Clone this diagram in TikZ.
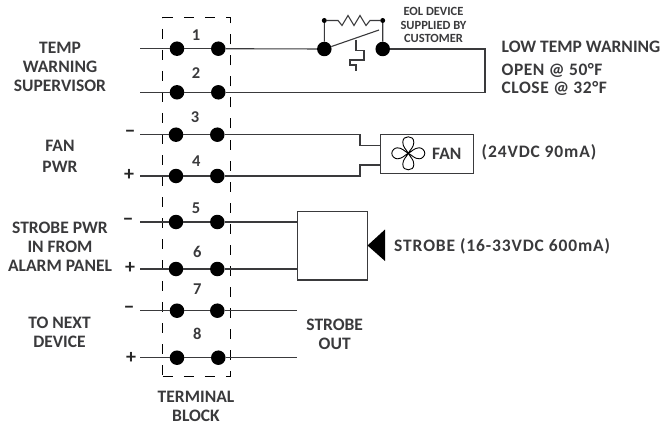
\documentclass[tikz,border=0pt]{standalone}
\usepackage{fontspec}
\setmainfont{Carlito}
\definecolor{ink}{HTML}{3A3A3C}
\tikzset{x=1pt,y=-1pt,
 wire/.style={line width=1.1pt,draw=ink},
 termdot/.style={circle,fill=black,inner sep=0pt,minimum size=14.5pt},
 smalldot/.style={circle,fill=black,inner sep=0pt,minimum size=5pt},
 lab/.style={font=\fontsize{17.5pt}{19pt}\selectfont\bfseries,text=ink,inner sep=0pt,align=center},
 sgn/.style={font=\fontsize{20pt}{20pt}\selectfont\bfseries,text=black!85,inner sep=0pt},
 num/.style={font=\fontsize{16.5pt}{18pt}\selectfont\bfseries,text=ink,inner sep=0pt},
 eol/.style={font=\fontsize{12.5pt}{13.2pt}\selectfont\bfseries,text=ink,inner sep=0pt,align=center},
 boxn/.style={draw=ink,line width=1.1pt,fill=none,inner sep=0pt}}
\newcommand{\lsp}[1]{\addfontfeatures{LetterSpace=#1}}
\begin{document}
\begin{tikzpicture}
\useasboundingbox (0,0) rectangle (666,425);
% terminal block
\node[draw=black,dashed,dash pattern=on 10pt off 11pt,line width=1pt,minimum width=67.5pt,minimum height=358pt,inner sep=0pt] (block) at (196.7,197) {};
% row ends and dots
\foreach \n/\y/\a/\b in {1/48.7/177/218.3,2/92.3/177/218.3,3/134.7/176/217.3,4/176/176/217.3,5/222/176/217.3,6/269/176/217.3,7/310.7/177/217.3,8/357.7/177/218.3}{
  \coordinate (L\n) at (140,\y);
  \node[termdot] (A\n) at (\a,\y) {};
  \node[termdot] (B\n) at (\b,\y) {};
  \draw[wire] (L\n) -- (A\n) -- (B\n);
}
\foreach \n/\x/\y in {1/196/35,2/196/72.7,3/195/116.7,4/196.3/161,5/196/208,6/197.3/252,7/197.3/289.3,8/197.3/334}{
  \node[num] (N\n) at (\x,\y) {\n};
}
% EOL device
\node[termdot] (E1) at (324.3,49) {};
\node[termdot] (E2) at (382.7,49) {};
\node[smalldot] (S1) at (324.3,20.5) {};
\node[smalldot] (S2) at (382.7,20.5) {};
\coordinate (RC) at (485,49);
\coordinate (RD) at (485,92.3);
\draw[wire] (B1) -- (E1);
\draw[wire] (E2) -- (RC) -- (RD) -- (B2);
\draw[wire] (E1) -- (S1) -- (338,20.5) -- ++(4,5) -- ++(6,-10) -- ++(6,10) -- ++(6,-10) -- ++(6,10) -- (370,20.5) -- (S2) -- (E2);
\draw[line width=1.1pt,draw=ink] (E1) -- (379,30);
\draw[line width=1.1pt,draw=ink] (356,40) -- (356,50.5) -- (364,50.5) -- (364,60) -- (350,60) -- (350,65) -- (356,65) -- (356,71);
\node[eol] (eoltxt) at (433.5,25) {EOL DEVICE\\SUPPLIED BY\\CUSTOMER};
% fan
\node[boxn,minimum width=93pt,minimum height=39pt] (fanbox) at (427,154) {};
\coordinate (F3a) at (360,134.7);
\coordinate (F3b) at (360,145.7);
\coordinate (F3c) at (380.5,145.7);
\coordinate (F4a) at (360,176);
\coordinate (F4b) at (360,165);
\coordinate (F4c) at (380.5,165);
\draw[wire] (B3) -- (F3a) -- (F3b) -- (F3c);
\draw[wire] (B4) -- (F4a) -- (F4b) -- (F4c);
\begin{scope}[shift={(408.3,153.3)},line width=.9pt,draw=black]
\draw (0,0) .. controls (-2,-4) and (-5.5,-6) .. (-5.5,-11) .. controls (-5.5,-15) and (-3,-16.5) .. (0,-16.5) .. controls (3,-16.5) and (5.5,-15) .. (5.5,-11) .. controls (5.5,-6) and (2,-4) .. (0,0)
  .. controls (4,-2) and (6,-5.5) .. (11,-5.5) .. controls (13.5,-5.5) and (16.5,-3) .. (16.5,0) .. controls (16.5,3) and (13.5,5.5) .. (11,5.5) .. controls (6,5.5) and (4,2) .. (0,0)
  .. controls (2,4) and (5.5,6) .. (5.5,11) .. controls (5.5,15) and (3,16.5) .. (0,16.5) .. controls (-3,16.5) and (-5.5,15) .. (-5.5,11) .. controls (-5.5,6) and (-2,4) .. (0,0)
  .. controls (-4,2) and (-6,5.5) .. (-11,5.5) .. controls (-13.5,5.5) and (-16.5,3) .. (-16.5,0) .. controls (-16.5,-3) and (-13.5,-5.5) .. (-11,-5.5) .. controls (-6,-5.5) and (-4,-2) .. (0,0);
\end{scope}
\node[lab,anchor=west] (fantxt) at (432,153.5) {FAN};
\node[lab,anchor=west] (fanspec) at (481.5,152) {\lsp{5}(24VDC 90mA)};
% strobe
\node[boxn,minimum width=70pt,minimum height=68.5pt] (strobebox) at (332.5,245.7) {};
\coordinate (T5) at (strobebox.west |- B5);
\coordinate (T6) at (strobebox.west |- B6);
\draw[wire] (B5) -- (T5);
\draw[wire] (B6) -- (T6);
\coordinate (tipa) at (367.5,245.5);
\fill[black] (tipa) -- (385,229.5) -- (385,261) -- cycle;
\node[lab,anchor=west] (strobetxt) at (394,246.5) {\lsp{5}STROBE (16-33VDC 600mA)};
% outs
\coordinate (O7) at (297,310.7);
\coordinate (O8) at (297,357.7);
\draw[wire] (B7) -- (O7);
\draw[wire] (B8) -- (O8);
% labels
\node[lab] (t1) at (60,66.5) {TEMP\\WARNING\\SUPERVISOR};
\node[lab] (t2a) at (60,146) {FAN};
\node[lab] (t2b) at (60,167) {PWR};
\node[lab] (t3) at (60,246.5) {STROBE PWR\\IN FROM\\ALARM PANEL};
\node[lab] (t4) at (59.5,332.5) {TO NEXT\\DEVICE};
\node[lab] (t5) at (334.7,334.5) {STROBE\\OUT};
\node[lab] (t6) at (196,406.5) {TERMINAL\\BLOCK};
\node[lab,anchor=west] (w1) at (501.5,47.3) {LOW TEMP WARNING};
\node[lab,anchor=west] (w2) at (501.5,70.7) {\lsp{3}OPEN @ 50°F};
\node[lab,anchor=west] (w3) at (501.5,88.3) {\lsp{3}CLOSE @ 32°F};
% signs
\foreach \n/\s/\x/\y in {3/−/130/134,4/+/129/175,5/−/128/222,6/+/130/268,7/−/129/310,8/+/131/358}{
  \node[sgn] (sg\n) at (\x,\y) {\s};
}
\end{tikzpicture}
\end{document}
